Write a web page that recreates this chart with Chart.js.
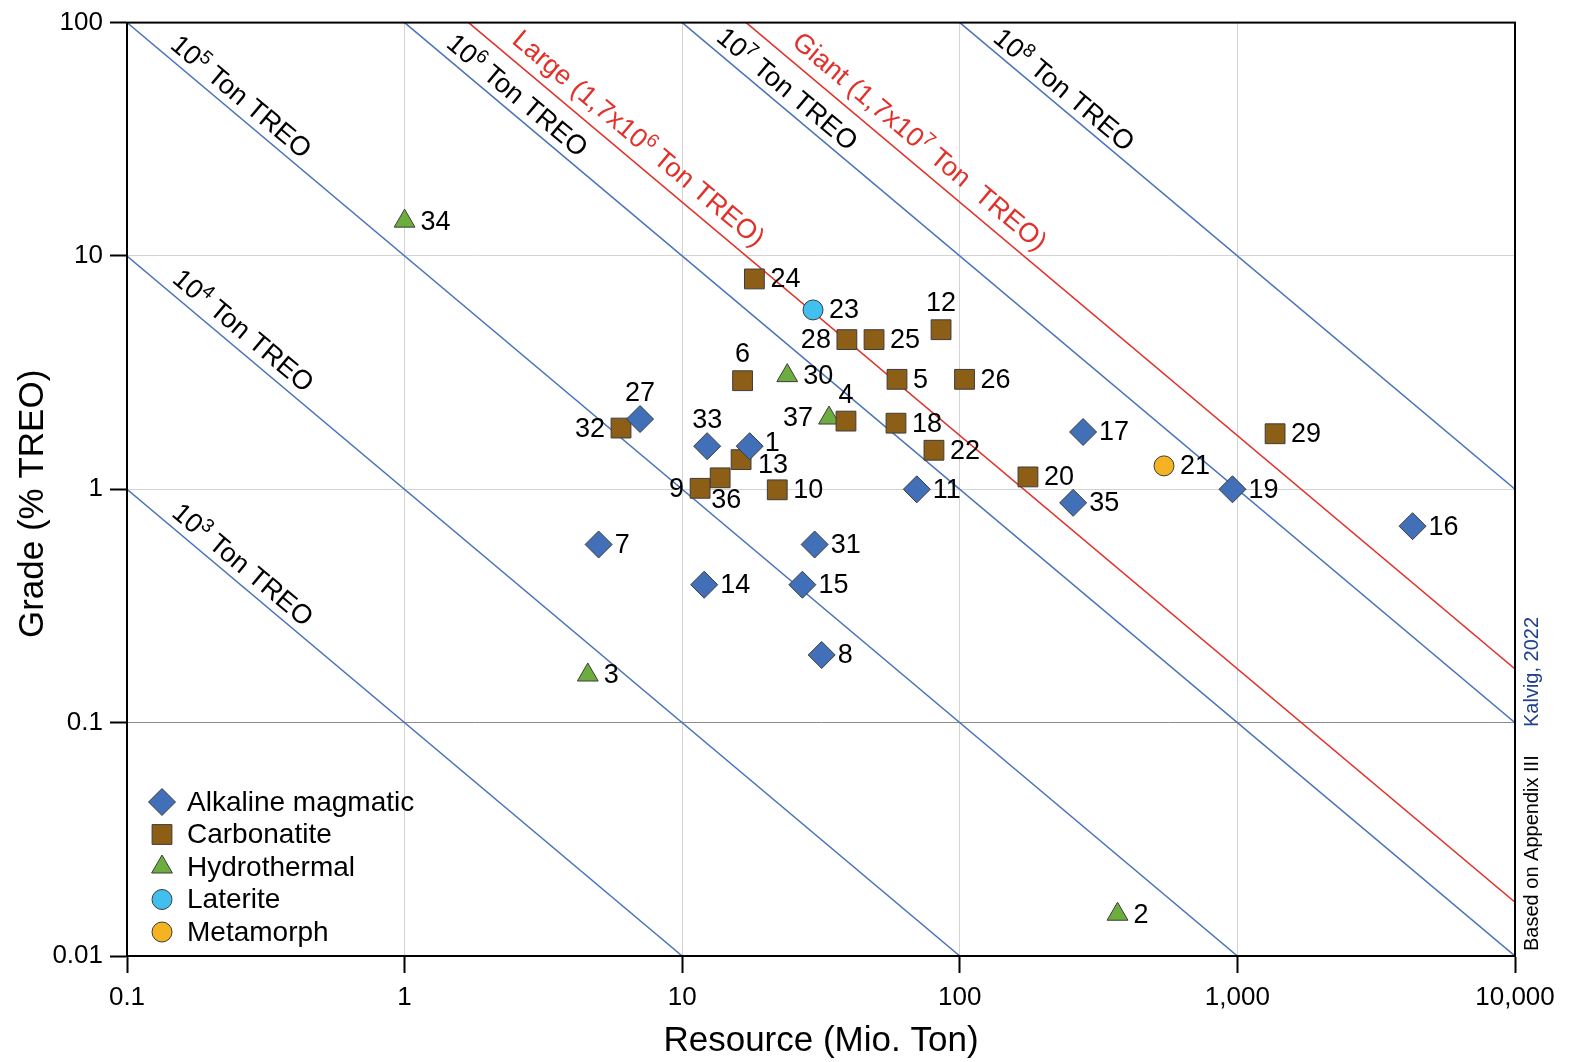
<!DOCTYPE html>
<html>
<head>
<meta charset="utf-8">
<title>REE deposits - grade vs resource</title>
<script src="https://cdn.jsdelivr.net/npm/chart.js@4.4.1/dist/chart.umd.min.js"></script>
<style>
  html, body { margin: 0; padding: 0; background: #fff; }
  #wrap { width: 1573px; height: 1062px; }
</style>
</head>
<body>
<div id="wrap"><canvas id="myChart" width="1573" height="1062"></canvas></div>
<script>
// deposit no., resource (Mio. Ton) and grade (% TREO), one set per deposit type
const alkalineIds = [27, 33, 1, 17, 11, 19, 35, 16, 7, 31, 14, 15, 8]
const alkalineRes = [7.05, 12.3, 17.5, 278, 70, 960, 256, 4275, 5.0, 30, 12, 27.1, 31.8]
const alkalineGrade = [2.0, 1.53, 1.53, 1.76, 1.0, 1.0, 0.875, 0.695, 0.58, 0.58, 0.39, 0.39, 0.195]

const carbIds = [24, 12, 28, 25, 6, 5, 26, 32, 4, 18, 13, 36, 9, 10, 22, 29, 20]
const carbRes = [18.2, 85.6, 39.2, 49.1, 16.5, 59.4, 104, 6.02, 38.9, 58.9, 16.3, 13.7, 11.6, 22, 80.7, 1367, 176]
const carbGrade = [7.97, 4.83, 4.38, 4.38, 2.92, 2.96, 2.96, 1.83, 1.96, 1.92, 1.34, 1.12, 1.01, 0.995, 1.47, 1.73, 1.13]

const hydroIds = [34, 30, 37, 3, 2]
const hydroRes = [1.0, 23.9, 33.8, 4.57, 370]
const hydroGrade = [14.1, 3.07, 2.02, 0.160, 0.0151]

const lateriteIds = [23]
const lateriteRes = [29.6]
const lateriteGrade = [5.87]

const metaIds = [21]
const metaRes = [544]
const metaGrade = [1.26]

// contained TREO in ton for the diagonal lines
const tonLines = [1e3, 1e4, 1e5, 1e6, 1e7, 1e8]
const largeTon = 1.7e6
const giantTon = 1.7e7

const xTicks = [0.1, 1, 10, 100, 1000, 10000]
const yTicks = [0.01, 0.1, 1, 10, 100]
const xMin = 0.1, xMax = 10000, yMin = 0.01, yMax = 100

const FONT = "'Liberation Sans', Arial, sans-serif"
const BLUE_LINE = '#4a74b9'
const RED_LINE = '#e2312b'

// which side the deposit number sits on (default right)
const labelSide = {12: 't', 6: 't', 27: 't', 33: 't', 4: 't', 28: 'l', 32: 'l', 37: 'l', 9: 'l', 36: 'b', 13: 'rb', 1: 'rt'}

const pts = (ids, res, grade) => ids.map((id, i) => ({x: res[i], y: grade[i], id: id}))

// ton = Mt * 1e6 * grade/100 -> res*grade = ton/1e4
const lineData = (ton) => {
    const c = ton / 1e4
    const x0 = Math.max(xMin, c / yMax)
    const x1 = Math.min(xMax, c / yMin)
    return [{x: x0, y: c / x0}, {x: x1, y: c / x1}]
}

const lineSet = (ton, color) => ({
    type: 'line', data: lineData(ton), showLine: true, borderColor: color, borderWidth: 1.5,
    pointRadius: 0, fill: false, tension: 0, order: 2
})

const lineLabels = [
    {ton: 1e3, pre: '10', sup: '3', post: ' Ton TREO', color: '#000', along: 50, off: 8},
    {ton: 1e4, pre: '10', sup: '4', post: ' Ton TREO', color: '#000', along: 50, off: 9},
    {ton: 1e5, pre: '10', sup: '5', post: ' Ton TREO', color: '#000', along: 48, off: 8},
    {ton: 1e6, pre: '10', sup: '6', post: ' Ton TREO', color: '#000', along: 46, off: 8},
    {ton: 1e7, pre: '10', sup: '7', post: ' Ton TREO', color: '#000', along: 36, off: 8},
    {ton: 1e8, pre: '10', sup: '8', post: ' Ton TREO', color: '#000', along: 36, off: 7},
    {ton: largeTon, pre: 'Large (1,7x10', sup: '6', post: ' Ton TREO)', color: RED_LINE, along: 45, off: 12},
    {ton: giantTon, pre: 'Giant (1,7x10', sup: '7', post: ' Ton  TREO)', color: RED_LINE, along: 48, off: 12}
]

const diagLabelsPlugin = {
    id: 'diagLabels',
    afterDatasetsDraw(chart) {
        const ctx = chart.ctx, xs = chart.scales.x, ys = chart.scales.y
        lineLabels.forEach(l => {
            const d = lineData(l.ton)
            const p0 = {x: xs.getPixelForValue(d[0].x), y: ys.getPixelForValue(d[0].y)}
            const p1 = {x: xs.getPixelForValue(d[1].x), y: ys.getPixelForValue(d[1].y)}
            const ang = Math.atan2(p1.y - p0.y, p1.x - p0.x)
            ctx.save()
            ctx.translate(p0.x, p0.y)
            ctx.rotate(ang)
            ctx.fillStyle = l.color
            ctx.textBaseline = 'alphabetic'
            ctx.textAlign = 'left'
            let x = l.along
            const y = -l.off
            ctx.font = '27px ' + FONT
            ctx.fillText(l.pre, x, y)
            x += ctx.measureText(l.pre).width
            ctx.font = '19px ' + FONT
            ctx.fillText(l.sup, x, y - 10)
            x += ctx.measureText(l.sup).width
            ctx.font = '27px ' + FONT
            ctx.fillText(l.post, x, y)
            ctx.restore()
        })
    }
}

const pointLabelsPlugin = {
    id: 'pointLabels',
    afterDatasetsDraw(chart) {
        const ctx = chart.ctx
        ctx.save()
        ctx.font = '27px ' + FONT
        ctx.fillStyle = '#000'
        ctx.textBaseline = 'middle'
        chart.data.datasets.forEach((ds, di) => {
            if (ds.type === 'line') return
            const meta = chart.getDatasetMeta(di)
            meta.data.forEach((el, i) => {
                const id = ds.data[i].id
                const side = labelSide[id] || 'r'
                let x = el.x, y = el.y + 1
                if (side === 'r') { ctx.textAlign = 'left'; x += 16 }
                if (side === 'rb') { ctx.textAlign = 'left'; x += 17; y += 5 }
                if (side === 'rt') { ctx.textAlign = 'left'; x += 15; y -= 4 }
                if (side === 'l') { ctx.textAlign = 'right'; x -= 16 }
                if (side === 't') { ctx.textAlign = 'center'; y -= 27 }
                if (side === 'b') { ctx.textAlign = 'center'; x += 6; y += 22 }
                ctx.fillText(String(id), x, y)
            })
        })
        ctx.restore()
    }
}

const framePlugin = {
    id: 'frame',
    afterDatasetsDraw(chart) {
        const {left, top, right, bottom} = chart.chartArea
        const ctx = chart.ctx
        ctx.save()
        ctx.strokeStyle = '#000'
        ctx.lineWidth = 2
        ctx.strokeRect(left, top, right - left, bottom - top)
        ctx.restore()
    }
}

// legend box in lower left corner of the plot
const legendPlugin = {
    id: 'insideLegend',
    afterDraw(chart) {
        const ctx = chart.ctx
        const area = chart.chartArea
        const sets = chart.data.datasets.filter(d => d.type !== 'line')
        ctx.save()
        sets.forEach((ds, i) => {
            const cx = area.left + 35
            const cy = area.bottom - 154 + i * 32.5
            ctx.fillStyle = ds.backgroundColor
            ctx.strokeStyle = ds.borderColor
            ctx.lineWidth = ds.borderWidth
            Chart.helpers.drawPoint(ctx, {pointStyle: ds.pointStyle, radius: ds.pointRadius, rotation: 0, borderWidth: ds.borderWidth}, cx, cy)
            ctx.fillStyle = '#000'
            ctx.font = '28px ' + FONT
            ctx.textAlign = 'left'
            ctx.textBaseline = 'middle'
            ctx.fillText(ds.label, area.left + 60, cy + 1)
        })
        ctx.restore()
    }
}

const creditPlugin = {
    id: 'credit',
    afterDraw(chart) {
        const ctx = chart.ctx
        ctx.save()
        ctx.translate(1532, 951)
        ctx.rotate(-Math.PI / 2)
        ctx.font = '20px ' + FONT
        ctx.textBaseline = 'middle'
        ctx.textAlign = 'left'
        ctx.fillStyle = '#000'
        ctx.fillText('Based on Appendix III', 0, 0)
        ctx.fillStyle = '#1f3f8f'
        ctx.fillText('Kalvig, 2022', 224, 0)
        ctx.restore()
    }
}

const scatterSet = (label, data, style, radius, color) => ({
    label: label, data: data, pointStyle: style, pointRadius: radius, backgroundColor: color,
    borderColor: '#3c3c3c', borderWidth: 1, order: 0
})

const ctx = document.getElementById('myChart')
const myChart = new Chart(ctx, {
    type: 'scatter',
    data: {
        datasets: [
            scatterSet('Alkaline magmatic', pts(alkalineIds, alkalineRes, alkalineGrade), 'rectRot', 13.5, '#4170b8'),
            scatterSet('Carbonatite', pts(carbIds, carbRes, carbGrade), 'rect', 14, '#8d5f16'),
            scatterSet('Hydrothermal', pts(hydroIds, hydroRes, hydroGrade), 'triangle', 12, '#6cae3e'),
            scatterSet('Laterite', pts(lateriteIds, lateriteRes, lateriteGrade), 'circle', 10, '#41c0ef'),
            scatterSet('Metamorph', pts(metaIds, metaRes, metaGrade), 'circle', 10, '#f5b322'),
            ...tonLines.map(t => lineSet(t, BLUE_LINE)),
            lineSet(largeTon, RED_LINE),
            lineSet(giantTon, RED_LINE)
        ]
    },
    options: {
        responsive: false,
        animation: false,
        events: [],
        devicePixelRatio: 1,
        layout: {padding: {left: 0, top: 18, right: 58, bottom: 0}},
        plugins: {legend: {display: false}, tooltip: {enabled: false}},
        scales: {
            x: {
                type: 'logarithmic', min: xMin, max: xMax, position: 'bottom',
                afterBuildTicks: s => { s.ticks = xTicks.map(v => ({value: v})) },
                afterFit: s => { s.height = 106 },
                ticks: {callback: v => Number(v).toLocaleString('en-US'), font: {size: 26, family: FONT}, color: '#000', padding: 9, maxRotation: 0, autoSkip: false},
                grid: {color: '#d3d3d3', lineWidth: 1, tickLength: 17, tickColor: '#000', tickWidth: 2},
                border: {color: '#000', width: 2},
                title: {display: true, text: 'Resource (Mio. Ton)', font: {size: 35, family: FONT}, color: '#000', padding: {top: 0, bottom: 0}}
            },
            y: {
                type: 'logarithmic', min: yMin, max: yMax,
                afterBuildTicks: s => { s.ticks = yTicks.map(v => ({value: v})) },
                afterFit: s => { s.width = 127 },
                ticks: {callback: v => String(v), font: {size: 26, family: FONT}, color: '#000', padding: 7, autoSkip: false},
                grid: {color: c => (c.tick && c.tick.value === 0.1) ? '#8c8c8c' : '#d3d3d3', lineWidth: 1, tickLength: 17, tickColor: '#000', tickWidth: 2},
                border: {color: '#000', width: 2},
                title: {display: true, text: 'Grade (% TREO)   ', font: {size: 35, family: FONT}, color: '#000', padding: {top: 12, bottom: 0}}
            }
        }
    },
    plugins: [diagLabelsPlugin, framePlugin, pointLabelsPlugin, legendPlugin, creditPlugin]
})
</script>
</body>
</html>
